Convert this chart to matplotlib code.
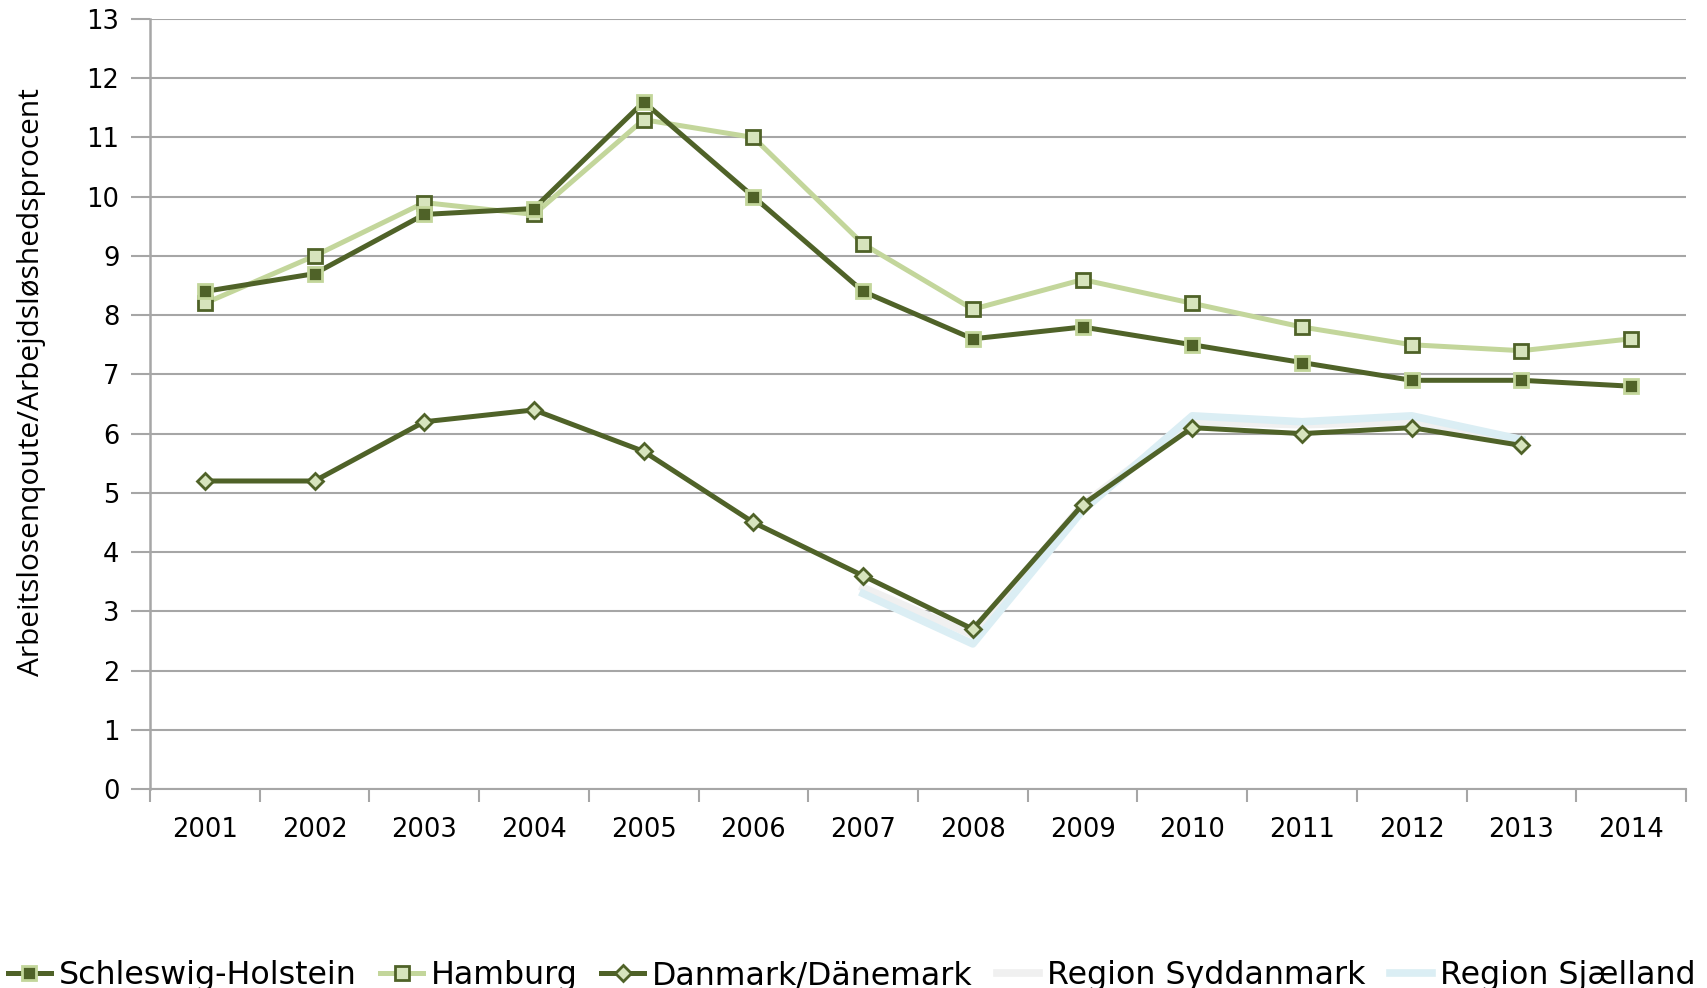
import matplotlib
matplotlib.use('Agg')
import matplotlib.pyplot as plt
import numpy as np

# data
years = ['2001', '2002', '2003', '2004', '2005', '2006', '2007',
         '2008', '2009', '2010', '2011', '2012', '2013', '2014']
schleswig = [8.4, 8.7, 9.7, 9.8, 11.6, 10.0, 8.4, 7.6, 7.8, 7.5, 7.2, 6.9, 6.9, 6.8]
hamburg = [8.2, 9.0, 9.9, 9.7, 11.3, 11.0, 9.2, 8.1, 8.6, 8.2, 7.8, 7.5, 7.4, 7.6]
danmark = [5.2, 5.2, 6.2, 6.4, 5.7, 4.5, 3.6, 2.7, 4.8, 6.1, 6.0, 6.1, 5.8, np.nan]
syddanmark = [np.nan] * 6 + [3.4, 2.6, 4.8, 6.2, 6.15, 6.2, 5.9, np.nan]
sjaelland = [np.nan] * 6 + [3.3, 2.45, 4.7, 6.3, 6.2, 6.3, 5.9, np.nan]

labels = ['Schleswig-Holstein', 'Hamburg', 'Danmark/Dänemark',
          'Region Syddanmark', 'Region Sjælland']

C_DARK = '#4f6228'
C_LIGHT = '#c3d69b'
C_PALE = '#d7e4bd'
C_GREY = '#f0f0f0'
C_BLUE = '#dbeef4'
C_GRID = '#a6a6a6'

fig = plt.figure(figsize=(17.08, 9.88), dpi=100)
ax = fig.add_axes([0.0878, 0.2014, 0.8993, 0.7794])

x = np.arange(len(years))

ax.plot(x, syddanmark, color=C_GREY, lw=5.5, zorder=2, label=labels[3])
ax.plot(x, sjaelland, color=C_BLUE, lw=5.5, zorder=2, label=labels[4])
ax.plot(x, hamburg, color=C_LIGHT, lw=3.6, marker='s', markersize=10,
        markerfacecolor=C_PALE, markeredgecolor=C_DARK, markeredgewidth=2,
        zorder=3, label=labels[1])
ax.plot(x, schleswig, color=C_DARK, lw=3.6, marker='s', markersize=10,
        markerfacecolor=C_DARK, markeredgecolor=C_LIGHT, markeredgewidth=2,
        zorder=4, label=labels[0])
ax.plot(x, danmark, color=C_DARK, lw=3.6, marker='D', markersize=8.5,
        markerfacecolor=C_PALE, markeredgecolor=C_DARK, markeredgewidth=2,
        zorder=4, label=labels[2])

ax.set_xlim(-0.5, len(years) - 0.5)
ax.set_ylim(0, 13)
ax.set_yticks(range(0, 14))
ax.grid(axis='y', color=C_GRID, lw=1.5, zorder=0)
ax.set_axisbelow(True)

# category boundary ticks below, labels centred between them
ax.set_xticks(np.arange(-0.5, len(years), 1.0))
ax.set_xticklabels([])
ax.set_xticks(x, minor=True)
ax.set_xticklabels(years, minor=True, fontsize=18.5, family='DejaVu Sans')
ax.tick_params(axis='x', which='major', length=9, width=1.5, color=C_GRID)
ax.tick_params(axis='x', which='minor', length=0, pad=20)
ax.tick_params(axis='y', length=14, width=1.5, color=C_GRID, labelsize=18.5, pad=8)
for lab in ax.get_yticklabels():
    lab.set_family('DejaVu Sans')

for s in ['top', 'right']:
    ax.spines[s].set_visible(False)
ax.spines['left'].set_color(C_GRID)
ax.spines['left'].set_linewidth(1.8)
ax.spines['bottom'].set_color(C_GRID)
ax.spines['bottom'].set_linewidth(1.5)

ax.set_ylabel('Arbeitslosenqoute/Arbejdsløshedsprocent', fontsize=21.5,
              family=['Open Sans', 'DejaVu Sans'])
ax.yaxis.set_label_coords(-0.068, 0.528)

handles, labs = ax.get_legend_handles_labels()
order = [labs.index(l) for l in labels]
leg = fig.legend([handles[i] for i in order], [labs[i] for i in order],
                 loc='lower left', bbox_to_anchor=(-0.012, -0.032), ncol=5,
                 frameon=False, handlelength=1.35, handletextpad=0.25,
                 columnspacing=0.75, prop={'family': 'DejaVu Sans', 'size': 22.8})

fig.savefig('out.png', dpi=100)
